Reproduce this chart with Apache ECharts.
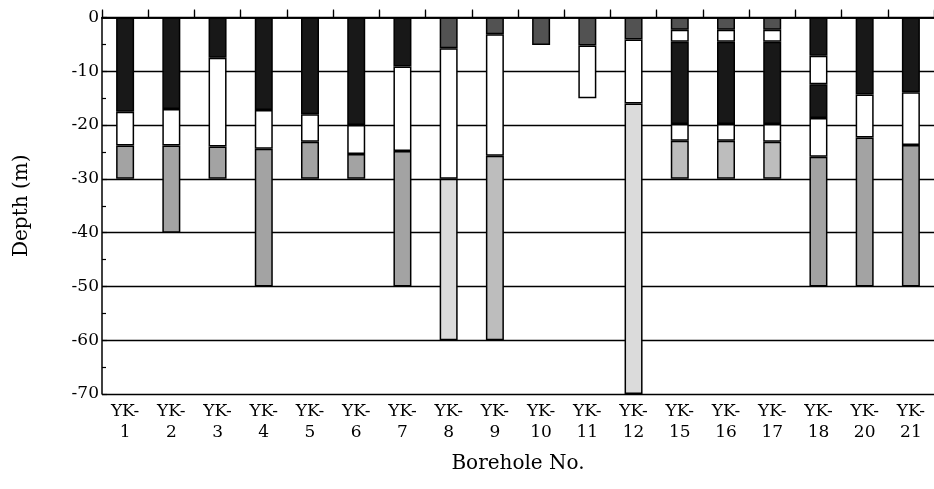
<!DOCTYPE html>
<html>
<head>
<meta charset="utf-8">
<script src="https://cdn.jsdelivr.net/npm/echarts@6/dist/echarts.min.js"></script>
<style>
html,body{margin:0;padding:0;background:#fff;}
#chart{width:934px;height:489px;}
</style>
</head>
<body>
<div id="chart"></div>
<script>
// Borehole numbers (x categories)
const categories = ['1','2','3','4','5','6','7','8','9','10','11','12','15','16','17','18','20','21'];
// Y tick values
const yTicks = [0,-10,-20,-30,-40,-50,-60,-70];

// Layer bottoms (m, negative = depth), top to bottom; null = no such layer
const layer1Bottom = [-17.5,-17,-7.5,-17.2,-18,-20,-9.1,-5.7,-3.1,-5.1,-5.2,-4.1,-2.3,-2.3,-2.3,-7.1,-14.3,-13.9];
const layer1Type   = ['K','K','K','K','K','K','K','D','D','D','D','D','D','D','D','K','K','K'];
const layer2Bottom = [-23.8,-23.8,-24,-24.4,-23.1,-25.4,-24.8,-30,-25.7,null,-15,-16,-4.5,-4.5,-4.5,-12.4,-22.3,-23.7];
const layer2Type   = ['W','W','W','W','W','W','W','W','W',null,'W','W','W','W','W','W','W','W'];
const layer3Bottom = [-30,-40,-30,-50,-30,-30,-50,-60,-60,null,null,-70,-19.8,-19.8,-19.8,-18.7,-50,-50];
const layer3Type   = ['G','G','G','G','G','G','G','L','M',null,null,'L','K','K','K','K','G','G'];
const layer4Bottom = [null,null,null,null,null,null,null,null,null,null,null,null,-22.9,-22.9,-23.1,-25.9,null,null];
const layer4Type   = [null,null,null,null,null,null,null,null,null,null,null,null,'W','W','W','W',null,null];
const layer5Bottom = [null,null,null,null,null,null,null,null,null,null,null,null,-30,-30,-30,-50,null,null];
const layer5Type   = [null,null,null,null,null,null,null,null,null,null,null,null,'M','M','M','G',null,null];

const fills = {K:'#181818', D:'#525252', G:'#a3a3a3', M:'#bdbdbd', L:'#dbdbdb', W:'#ffffff'};
const FONT = 'DejaVu Serif';

const layers = [
  [layer1Bottom, layer1Type],
  [layer2Bottom, layer2Type],
  [layer3Bottom, layer3Type],
  [layer4Bottom, layer4Type],
  [layer5Bottom, layer5Type]
];

const series = layers.map(function (pair, li) {
  const bottoms = pair[0], types = pair[1];
  const data = bottoms.map(function (b, i) {
    if (b === null) return '-';
    // previous layer bottom (0 for the first layer)
    let prev = 0;
    for (let k = li - 1; k >= 0; k--) {
      if (layers[k][0][i] !== null) { prev = layers[k][0][i]; break; }
    }
    return { value: +(b - prev).toFixed(2), itemStyle: { color: fills[types[i]] } };
  });
  return {
    type: 'bar',
    stack: 'hole',
    barWidth: 18,
    data: data,
    itemStyle: { borderColor: '#000', borderWidth: 1.5 },
    emphasis: { disabled: true },
    silent: true
  };
});

const chart = echarts.init(document.getElementById('chart'), null, {renderer: 'canvas'});
chart.setOption({
  animation: false,
  backgroundColor: '#fff',
  grid: { left: 102, top: 17.5, width: 833, height: 376.5, containLabel: false },
  xAxis: [
    {
      type: 'category',
      data: categories,
      position: 'bottom',
      name: 'Borehole No.',
      nameLocation: 'middle',
      nameGap: 60,
      nameTextStyle: { fontFamily: FONT, fontSize: 20, color: '#000' },
      axisLine: { show: true, lineStyle: { color: '#000', width: 1.5 } },
      axisTick: { show: true, inside: true, length: 8, lineStyle: { color: '#000', width: 1.2 } },
      axisLabel: {
        fontFamily: FONT, fontSize: 17, color: '#000', margin: 7, lineHeight: 21,
        formatter: function (v) { return 'YK-\n' + v; }
      },
      splitLine: { show: false }
    },
    {
      type: 'category',
      data: categories,
      position: 'top',
      axisLine: { show: true, lineStyle: { color: '#000', width: 1.5 } },
      axisTick: { show: true, inside: false, length: 7, lineStyle: { color: '#000', width: 1.2 } },
      axisLabel: { show: false },
      splitLine: { show: false }
    }
  ],
  yAxis: {
    type: 'value',
    min: yTicks[yTicks.length - 1],
    max: yTicks[0],
    interval: 10,
    name: 'Depth (m)',
    nameLocation: 'middle',
    nameGap: 70,
    nameTextStyle: { fontFamily: FONT, fontSize: 20, color: '#000' },
    axisLine: { show: true, lineStyle: { color: '#000', width: 1.5 } },
    axisTick: { show: true, inside: true, length: 5, lineStyle: { color: '#000', width: 1.2 } },
    minorTick: { show: true, splitNumber: 2, length: 4, lineStyle: { color: '#000', width: 1.2 } },
    axisLabel: {
      fontFamily: FONT, fontSize: 17, color: '#000', margin: 3,
      formatter: function (v) { return String(v); }
    },
    splitLine: { show: true, lineStyle: { color: '#000', width: 1.4 } }
  },
  series: series
});
</script>
</body>
</html>
